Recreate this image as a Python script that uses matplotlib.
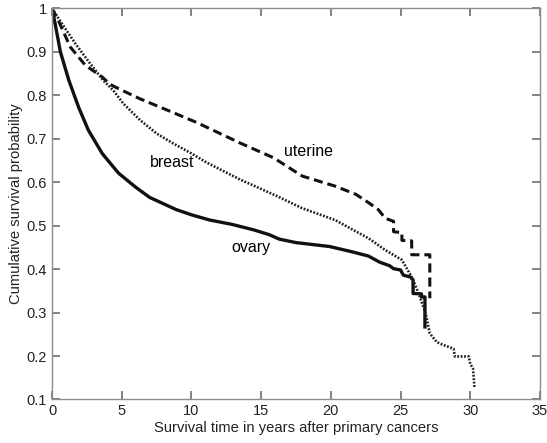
import matplotlib
matplotlib.use('Agg')
import matplotlib.pyplot as plt

plt.style.use('default')
plt.rcParams['font.family'] = ['Liberation Sans', 'DejaVu Sans']

# Kaplan-Meier style curves (years, survival probability)
ovary_x = [0, 0.25, 0.6, 1.2, 1.9, 2.6, 3.6, 4.4, 4.8, 5.98, 7.0, 8.9, 10.0, 11.3, 12.9,
           14.5, 15.6, 16.3, 17.5, 19.9, 21.5, 22.7, 23.5, 24.2, 24.5, 25.0, 25.2, 25.7,
           25.9, 25.9, 26.5, 26.5, 26.75, 26.75]
ovary_y = [1.0, 0.96, 0.90, 0.835, 0.773, 0.720, 0.666, 0.635, 0.620, 0.589, 0.565,
           0.537, 0.525, 0.513, 0.503, 0.490, 0.479, 0.469, 0.461, 0.452, 0.440, 0.430,
           0.416, 0.408, 0.401, 0.398, 0.386, 0.382, 0.375, 0.344, 0.343, 0.336, 0.336,
           0.267]

uterine_x = [0, 0.57, 1.31, 2.39, 3.6, 4.16, 4.78, 6.3, 8.7, 10.4, 13.5, 15.9, 17.95,
             20.3, 21.8, 22.7, 23.4, 23.9, 24.5, 24.5, 25.1, 25.1, 25.8, 25.8, 27.1, 27.1]
uterine_y = [1.0, 0.964, 0.911, 0.869, 0.842, 0.825, 0.815, 0.792, 0.760, 0.737, 0.690,
             0.656, 0.614, 0.591, 0.572, 0.553, 0.537, 0.517, 0.510, 0.486, 0.484, 0.466,
             0.465, 0.433, 0.433, 0.333]

breast_x = [0, 0.5, 1.67, 2.73, 3.68, 4.4, 5.11, 6.31, 7.5, 8.7, 9.9, 11.1, 13.5, 16.2,
            17.95, 20.3, 21.5, 22.7, 23.9, 25.1, 25.8, 26.3, 26.8, 27.1, 27.6, 28.1, 28.8,
            28.9, 29.9, 30.0, 30.2, 30.3]
breast_y = [1.0, 0.975, 0.919, 0.873, 0.834, 0.811, 0.781, 0.743, 0.712, 0.689, 0.668,
            0.645, 0.606, 0.567, 0.540, 0.513, 0.492, 0.471, 0.444, 0.421, 0.382, 0.344,
            0.298, 0.252, 0.232, 0.225, 0.217, 0.199, 0.199, 0.182, 0.171, 0.128]

x_ticks = [0, 5, 10, 15, 20, 25, 30, 35]
y_ticks = [0.1, 0.2, 0.3, 0.4, 0.5, 0.6, 0.7, 0.8, 0.9, 1.0]
y_tick_labels = ['0.1', '0.2', '0.3', '0.4', '0.5', '0.6', '0.7', '0.8', '0.9', '1']

fig = plt.figure(figsize=(5.47, 4.43), dpi=100)
ax = fig.add_axes([0.0951, 0.0982, 0.892, 0.883])

ax.plot(ovary_x, ovary_y, color='#111111', linewidth=2.4, linestyle='-')
ax.plot(uterine_x, uterine_y, color='#111111', linewidth=2.2, linestyle=(0, (3, 1.6)))
ax.plot(breast_x, breast_y, color='#222222', linewidth=1.9, linestyle=(0, (0.7, 0.6)))

ax.text(18.4, 0.671, 'uterine', fontsize=11.5, ha='center', va='center')
ax.text(8.6, 0.645, 'breast', fontsize=11.5, ha='center', va='center')
ax.text(14.3, 0.449, 'ovary', fontsize=11.5, ha='center', va='center')

ax.set_xlim(0, 35)
ax.set_ylim(0.1, 1.0)
ax.set_xticks(x_ticks)
ax.set_xticklabels([str(t) for t in x_ticks])
ax.set_yticks(y_ticks)
ax.set_yticklabels(y_tick_labels)
ax.xaxis.set_ticks_position('both')
ax.yaxis.set_ticks_position('both')

for side in ax.spines.values():
    side.set_color('#8c8c8c')
    side.set_linewidth(1.0)
ax.tick_params(axis='both', which='major', direction='in', length=6, width=1.2,
               color='#6e6e6e', labelcolor='#222222', labelsize=10.5)

ax.set_xlabel('Survival time in years after primary cancers', fontsize=10.6, color='#222222',
              labelpad=2)
ax.set_ylabel('Cumulative survival probability', fontsize=10.6, color='#222222', labelpad=3)

fig.savefig('out.png', dpi=100)
plt.close(fig)
